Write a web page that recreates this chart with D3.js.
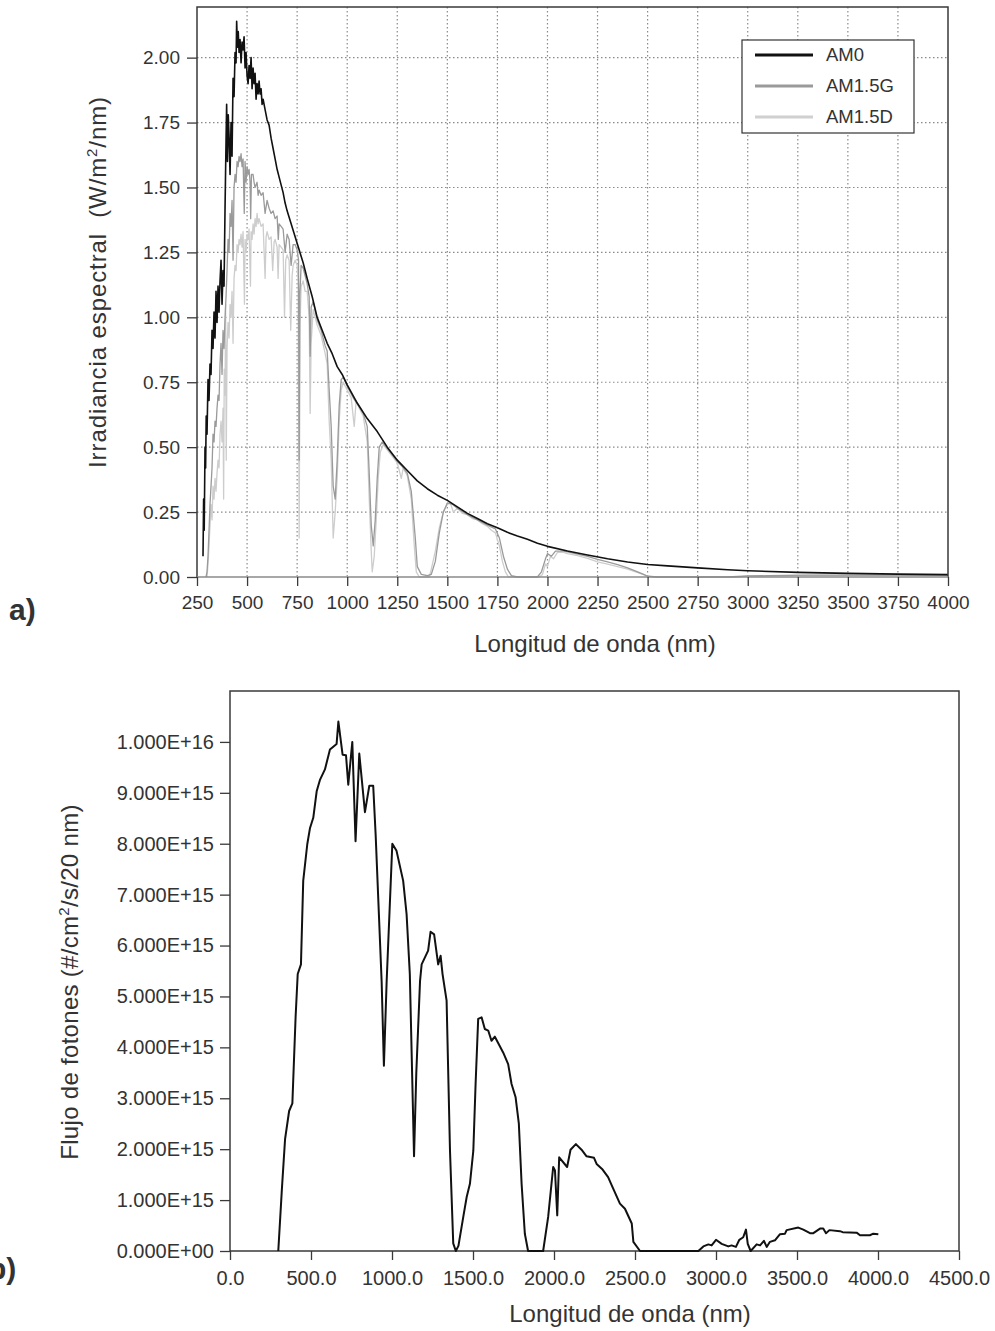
<!DOCTYPE html>
<html>
<head>
<meta charset="utf-8">
<script src="https://cdn.jsdelivr.net/npm/d3@7"></script>
<style>
  body { margin: 0; background: #fff; }
  svg text { font-family: "Liberation Sans", Arial, sans-serif; fill: #333; }
</style>
</head>
<body>
<svg id="chart" width="995" height="1331"></svg>
<script>
// ---- data ----
// panel a: [wavelength nm, spectral irradiance W/m2/nm]
var am0Points = [
  [280,0.08],[283,0.30],[286,0.18],[290,0.50],[293,0.42],[296,0.62],[300,0.55],[305,0.76],[310,0.68],
  [315,0.82],[320,0.78],[325,0.95],[330,0.88],[335,1.02],[340,0.92],[345,1.10],[350,0.98],[355,1.12],
  [360,1.02],[365,1.14],[370,1.22],[375,1.05],[380,1.18],[385,1.12],[390,1.42],[395,1.68],[398,1.82],
  [402,1.60],[406,1.78],[410,1.70],[415,1.55],[420,1.75],[425,1.62],[430,1.92],[435,1.85],[440,2.02],
  [445,1.98],[448,2.14],[452,2.04],[456,2.10],[460,2.02],[465,2.07],[470,1.98],[475,2.06],[480,2.03],
  [485,2.08],[490,1.96],[495,2.02],[500,1.93],[505,1.90],[510,1.97],[515,1.92],[520,2.00],[525,1.88],
  [530,1.96],[535,1.90],[540,1.94],[545,1.84],[550,1.90],[555,1.86],[560,1.91],[565,1.86],[570,1.88],
  [575,1.82],[580,1.84],[590,1.80],[600,1.76],[610,1.74],[620,1.69],[630,1.65],[640,1.61],[650,1.57],
  [660,1.54],[670,1.51],[680,1.48],[690,1.44],[700,1.41],[720,1.36],[740,1.31],[760,1.26],[780,1.21],
  [800,1.15],[825,1.08],[850,1.00],[875,0.95],[900,0.90],[925,0.86],[950,0.81],[975,0.78],[1000,0.74],
  [1050,0.67],[1100,0.61],[1150,0.56],[1200,0.50],[1250,0.45],[1300,0.41],[1350,0.37],[1400,0.34],
  [1450,0.315],[1500,0.295],[1550,0.27],[1600,0.245],[1650,0.225],[1700,0.205],[1750,0.19],[1800,0.172],
  [1850,0.158],[1900,0.145],[1950,0.13],[2000,0.118],[2100,0.10],[2200,0.085],[2300,0.07],[2400,0.058],
  [2500,0.048],[2600,0.043],[2750,0.035],[2900,0.028],[3000,0.024],[3250,0.018],[3500,0.014],
  [3750,0.011],[4000,0.009]
];

var am15gPoints = [
  [295,0],[300,0.02],[305,0.08],[310,0.18],[315,0.28],[320,0.35],[325,0.42],[330,0.55],[335,0.52],
  [340,0.60],[345,0.58],[350,0.65],[355,0.70],[360,0.68],[365,0.82],[370,0.90],[375,0.78],[380,0.95],
  [385,0.88],[390,1.00],[395,1.08],[400,1.18],[405,1.30],[410,1.25],[415,1.40],[420,1.35],[425,1.45],
  [430,1.22],[435,1.50],[440,1.55],[445,1.52],[450,1.60],[455,1.58],[460,1.62],[465,1.60],[470,1.63],
  [475,1.58],[480,1.61],[486,1.40],[490,1.60],[495,1.52],[500,1.58],[505,1.55],[510,1.57],[515,1.52],
  [518,1.38],[522,1.55],[530,1.55],[535,1.52],[540,1.50],[550,1.52],[555,1.47],[560,1.49],[570,1.47],
  [580,1.48],[590,1.40],[600,1.45],[610,1.42],[620,1.40],[630,1.41],[640,1.38],[650,1.39],[656,1.30],
  [660,1.36],[670,1.35],[680,1.34],[690,1.25],[700,1.32],[710,1.30],[720,1.20],[730,1.28],[740,1.28],
  [750,1.26],[757,1.22],[760,0.45],[763,1.08],[770,1.20],[780,1.19],[790,1.16],[800,1.13],[810,1.08],
  [815,0.85],[820,1.04],[830,1.06],[850,0.99],[870,0.95],[890,0.89],[900,0.87],[910,0.72],[920,0.58],
  [930,0.35],[940,0.30],[950,0.45],[960,0.66],[970,0.76],[980,0.77],[1000,0.735],[1030,0.69],[1060,0.655],
  [1080,0.63],[1100,0.58],[1110,0.40],[1120,0.20],[1130,0.12],[1140,0.22],[1150,0.38],[1160,0.50],
  [1175,0.52],[1200,0.495],[1225,0.47],[1250,0.445],[1275,0.425],[1300,0.40],[1320,0.33],[1340,0.15],
  [1350,0.04],[1370,0.01],[1400,0.005],[1420,0.01],[1440,0.06],[1460,0.17],[1480,0.25],[1500,0.285],
  [1525,0.28],[1550,0.265],[1600,0.24],[1650,0.22],[1700,0.20],[1740,0.185],[1760,0.15],[1780,0.08],
  [1800,0.03],[1820,0.005],[1850,0],[1950,0],[1970,0.02],[1990,0.07],[2000,0.09],[2020,0.08],
  [2040,0.10],[2080,0.10],[2100,0.097],[2150,0.088],[2200,0.079],[2250,0.068],[2300,0.058],
  [2350,0.048],[2400,0.035],[2450,0.02],[2480,0.01],[2500,0.003],[2550,0],[2900,0],[2950,0.002],
  [3000,0.004],[3100,0.005],[3200,0.006],[3300,0.007],[3500,0.007],[3750,0.007],[4000,0.006]
];

var am15dPoints = [
  [300,0],[305,0.05],[310,0.12],[315,0.20],[320,0.28],[325,0.22],[330,0.35],[335,0.30],[340,0.38],
  [345,0.33],[350,0.40],[355,0.45],[360,0.42],[365,0.55],[370,0.60],[375,0.52],[380,0.65],[383,0.30],
  [386,0.80],[390,0.70],[393,1.05],[396,0.45],[400,0.88],[405,0.98],[410,0.92],[415,1.05],[420,1.00],
  [425,1.10],[430,0.90],[435,1.15],[440,1.20],[445,1.18],[450,1.28],[455,1.25],[460,1.30],[465,1.28],
  [470,1.32],[475,1.27],[480,1.33],[487,1.05],[490,1.30],[495,1.25],[500,1.32],[505,1.30],[510,1.34],
  [517,1.12],[520,1.33],[525,1.30],[530,1.36],[535,1.32],[540,1.38],[545,1.35],[550,1.40],[555,1.36],
  [560,1.38],[570,1.35],[580,1.36],[590,1.15],[595,1.31],[600,1.33],[610,1.30],[620,1.31],[628,1.18],
  [635,1.29],[640,1.30],[650,1.27],[655,1.15],[660,1.28],[670,1.27],[680,1.26],[687,1.00],[693,1.22],
  [700,1.24],[710,1.22],[718,0.95],[725,1.16],[730,1.20],[740,1.22],[750,1.20],[755,1.14],[760,0.15],
  [765,0.98],[770,1.12],[780,1.14],[790,1.10],[800,1.10],[810,1.00],[815,0.63],[820,0.90],[830,1.03],
  [850,0.97],[870,0.93],[890,0.86],[900,0.82],[910,0.60],[920,0.45],[930,0.15],[940,0.25],[950,0.38],
  [960,0.60],[970,0.72],[980,0.75],[1000,0.72],[1020,0.69],[1035,0.58],[1045,0.68],[1060,0.65],
  [1080,0.62],[1100,0.52],[1110,0.30],[1120,0.10],[1125,0.02],[1135,0.08],[1145,0.22],[1155,0.38],
  [1165,0.48],[1180,0.51],[1200,0.49],[1225,0.465],[1250,0.44],[1270,0.38],[1280,0.42],[1300,0.39],
  [1320,0.30],[1335,0.12],[1345,0.02],[1360,0],[1410,0],[1420,0.03],[1440,0.10],[1460,0.19],[1480,0.25],
  [1500,0.28],[1515,0.285],[1530,0.25],[1550,0.265],[1575,0.245],[1600,0.24],[1625,0.225],[1650,0.22],
  [1675,0.205],[1700,0.195],[1720,0.18],[1740,0.17],[1760,0.12],[1775,0.06],[1790,0.02],[1805,0],
  [1960,0],[1975,0.01],[1990,0.05],[2000,0.04],[2015,0.08],[2030,0.07],[2050,0.095],[2080,0.095],
  [2100,0.09],[2150,0.082],[2200,0.072],[2250,0.058],[2300,0.05],[2350,0.04],[2400,0.03],[2440,0.02],
  [2470,0.012],[2500,0.003],[2530,0],[2950,0],[3000,0.003],[3250,0.006],[3500,0.006],[3750,0.006],
  [4000,0.005]
];

var seriesNames = ['AM0', 'AM1.5G', 'AM1.5D'];
var irradianceTicks = [0, 0.25, 0.5, 0.75, 1.0, 1.25, 1.5, 1.75, 2.0];
var wavelengthTicksA = [250, 500, 750, 1000, 1250, 1500, 1750, 2000, 2250, 2500, 2750, 3000, 3250, 3500, 3750, 4000];

// panel b: [wavelength nm, photon flux in units of 1E+15 #/cm2/s/20 nm]
var fluxE15 = [
  [298,0],[320,1.2],[340,2.2],[365,2.75],[385,2.9],[405,4.6],[418,5.44],[438,5.63],[452,7.27],[477,7.99],
  [494,8.31],[514,8.51],[535,9.03],[556,9.26],[586,9.46],[617,9.85],[658,9.96],[669,10.4],[695,9.75],
  [716,9.74],[730,9.16],[755,10.0],[775,8.05],[798,9.77],[833,8.62],[860,9.14],[884,9.14],[899,8.18],
  [936,5.3],[950,3.64],[967,5.3],[1002,8.0],[1028,7.86],[1069,7.27],[1090,6.62],[1110,5.44],[1136,1.86],
  [1150,3.5],[1173,5.3],[1183,5.63],[1223,5.9],[1238,6.27],[1260,6.22],[1285,5.63],[1300,5.8],[1312,5.44],
  [1337,4.92],[1358,1.97],[1378,0.15],[1394,0],[1410,0.1],[1440,0.67],[1461,1.06],[1481,1.32],[1502,1.97],
  [1516,3.28],[1532,4.56],[1553,4.59],[1573,4.36],[1594,4.33],[1614,4.13],[1635,4.21],[1686,3.90],
  [1717,3.67],[1738,3.28],[1763,3.02],[1783,2.5],[1800,1.32],[1820,0.34],[1840,0],[1933,0],[1964,0.67],
  [1995,1.65],[2006,1.58],[2020,0.7],[2032,1.84],[2081,1.65],[2102,1.99],[2135,2.1],[2170,1.99],
  [2201,1.86],[2247,1.83],[2263,1.71],[2300,1.6],[2334,1.45],[2362,1.25],[2407,0.93],[2438,0.83],
  [2480,0.54],[2490,0.18],[2531,0],[2891,0],[2922,0.09],[2953,0.13],[2973,0.11],[3000,0.22],[3035,0.14],
  [3076,0.09],[3096,0.11],[3123,0.08],[3144,0.22],[3168,0.27],[3185,0.42],[3196,0.14],[3214,0],
  [3251,0.13],[3272,0.11],[3296,0.2],[3313,0.08],[3333,0.18],[3364,0.21],[3395,0.33],[3426,0.34],
  [3436,0.41],[3508,0.46],[3539,0.42],[3580,0.35],[3601,0.35],[3642,0.44],[3662,0.44],[3679,0.35],
  [3700,0.41],[3765,0.39],[3782,0.37],[3868,0.36],[3889,0.31],[3950,0.31],[3971,0.34],[4002,0.33]
];

var fluxTicks = [0, 1e15, 2e15, 3e15, 4e15, 5e15, 6e15, 7e15, 8e15, 9e15, 1e16];
var wavelengthTicksB = [0, 500, 1000, 1500, 2000, 2500, 3000, 3500, 4000, 4500];

(function(){

  var svg = d3.select('#chart');
  var gridColor = '#8a8a8a',
    frameColor = '#3a3a3a';

  // ================= panel a =================
  var boxA = {left: 197, right: 948, top: 7, bottom: 577};
  var xA = d3.scaleLinear().domain([250, 4000]).range([boxA.left, boxA.right]);
  var yA = d3.scaleLinear().domain([0, 2.195]).range([boxA.bottom, boxA.top]);

  var gA = svg.append('g');

  // dotted grid
  gA.selectAll('.vgrid').data(wavelengthTicksA.slice(1, -1)).enter().append('line')
    .attr('x1', function(d){ return xA(d); })
    .attr('x2', function(d){ return xA(d); })
    .attr('y1', boxA.top).attr('y2', boxA.bottom)
    .attr('stroke', gridColor).attr('stroke-width', 1.2)
    .attr('stroke-dasharray', '1.5,2.5');

  gA.selectAll('.hgrid').data(irradianceTicks.slice(1)).enter().append('line')
    .attr('x1', boxA.left).attr('x2', boxA.right)
    .attr('y1', function(d){ return yA(d); })
    .attr('y2', function(d){ return yA(d); })
    .attr('stroke', gridColor).attr('stroke-width', 1.2)
    .attr('stroke-dasharray', '1.5,2.5');

  var lineA = d3.line()
    .x(function(d){ return xA(d[0]); })
    .y(function(d){ return yA(d[1]); });

  var seriesA = [
    {name: seriesNames[2], pts: am15dPoints, color: '#cdcdcd', w: 1.3},
    {name: seriesNames[1], pts: am15gPoints, color: '#9a9a9a', w: 1.3},
    {name: seriesNames[0], pts: am0Points, color: '#111', w: 1.6}
  ];

  gA.selectAll('.spec').data(seriesA).enter().append('path')
    .attr('d', function(d){ return lineA(d.pts); })
    .attr('fill', 'none')
    .attr('stroke', function(d){ return d.color; })
    .attr('stroke-width', function(d){ return d.w; })
    .attr('stroke-linejoin', 'round');

  // frame: dark left/top/right, lighter bottom axis line
  gA.append('path')
    .attr('d', 'M' + boxA.left + ',' + boxA.bottom + 'V' + boxA.top + 'H' + boxA.right + 'V' + boxA.bottom)
    .attr('fill', 'none').attr('stroke', frameColor).attr('stroke-width', 1.5);
  gA.append('line')
    .attr('x1', boxA.left).attr('x2', boxA.right)
    .attr('y1', boxA.bottom).attr('y2', boxA.bottom)
    .attr('stroke', '#8a8a8a').attr('stroke-width', 1.5);

  var axisAY = gA.append('g')
    .attr('transform', 'translate(' + boxA.left + ',0)')
    .call(d3.axisLeft(yA).tickValues(irradianceTicks).tickFormat(d3.format('.2f')).tickSize(10).tickPadding(7));
  var axisAX = gA.append('g')
    .attr('transform', 'translate(0,' + boxA.bottom + ')')
    .call(d3.axisBottom(xA).tickValues(wavelengthTicksA).tickFormat(d3.format('d')).tickSize(9).tickPadding(10));

  [axisAY, axisAX].forEach(function(ax){
    ax.select('.domain').remove();
    ax.selectAll('.tick line').attr('stroke', frameColor).attr('stroke-width', 1.3);
    ax.selectAll('.tick text').attr('font-size', 19).attr('fill', '#333')
      .style('font-family', '"Liberation Sans", Arial, sans-serif');
  });

  // legend
  var legend = gA.append('g');
  legend.append('rect')
    .attr('x', 742).attr('y', 40).attr('width', 172).attr('height', 93)
    .attr('fill', '#fff').attr('stroke', '#333').attr('stroke-width', 1.2);
  var legendColors = ['#111', '#9a9a9a', '#d0d0d0'];
  var legendRows = legend.selectAll('.row').data(seriesNames).enter().append('g')
    .attr('transform', function(d, i){ return 'translate(0,' + (55 + i * 31) + ')'; });
  legendRows.append('line')
    .attr('x1', 755).attr('x2', 813).attr('y1', 0).attr('y2', 0)
    .attr('stroke', function(d, i){ return legendColors[i]; })
    .attr('stroke-width', 3.2);
  legendRows.append('text')
    .attr('x', 826).attr('y', 0).attr('dy', '0.35em')
    .attr('font-size', 18.5)
    .text(function(d){ return d; });

  // titles
  var yTitleA = svg.append('text')
    .attr('transform', 'translate(106,282) rotate(-90)')
    .attr('text-anchor', 'middle')
    .attr('font-size', 24)
    .attr('letter-spacing', 0.9)
    .style('white-space', 'pre');
  yTitleA.append('tspan').text('Irradiancia espectral  (W/m');
  yTitleA.append('tspan').attr('font-size', 15).attr('dy', -9).text('2');
  yTitleA.append('tspan').attr('dy', 9).text('/nm)');

  svg.append('text')
    .attr('x', 595).attr('y', 652)
    .attr('text-anchor', 'middle')
    .attr('font-size', 24)
    .text('Longitud de onda (nm)');

  svg.append('text')
    .attr('x', 9).attr('y', 620)
    .attr('font-size', 30).attr('font-weight', 'bold').attr('fill', '#111')
    .text('a)');

  // ================= panel b =================
  var boxB = {left: 230, right: 959, top: 691, bottom: 1251};
  var xB = d3.scaleLinear().domain([0, 4500]).range([boxB.left, boxB.right]);
  var yB = d3.scaleLinear().domain([0, 1.1e16]).range([boxB.bottom, boxB.top]);

  var gB = svg.append('g');

  gB.append('path')
    .attr('d', 'M' + boxB.left + ',' + boxB.bottom + 'V' + boxB.top + 'H' + boxB.right + 'V' + boxB.bottom + 'H' + boxB.left)
    .attr('fill', 'none').attr('stroke', frameColor).attr('stroke-width', 1.5);

  var lineB = d3.line()
    .x(function(d){ return xB(d[0]); })
    .y(function(d){ return yB(d[1] * 1e15); });

  gB.append('path')
    .datum(fluxE15)
    .attr('d', lineB)
    .attr('fill', 'none')
    .attr('stroke', '#111')
    .attr('stroke-width', 2)
    .attr('stroke-linejoin', 'round');

  var sciFormat = function(v){
    if (v === 0) { return '0.000E+00'; }
    var e = Math.floor(Math.log10(v) + 1e-9);
    var m = v / Math.pow(10, e);
    return m.toFixed(3) + 'E+' + (e < 10 ? '0' : '') + e;
  };

  var axisBY = gB.append('g')
    .attr('transform', 'translate(' + boxB.left + ',0)')
    .call(d3.axisLeft(yB).tickValues(fluxTicks).tickFormat(sciFormat).tickSize(10).tickPadding(6));
  var axisBX = gB.append('g')
    .attr('transform', 'translate(0,' + boxB.bottom + ')')
    .call(d3.axisBottom(xB).tickValues(wavelengthTicksB).tickFormat(d3.format('.1f')).tickSize(9).tickPadding(11));

  [axisBY, axisBX].forEach(function(ax){
    ax.select('.domain').remove();
    ax.selectAll('.tick line').attr('stroke', frameColor).attr('stroke-width', 1.3);
    ax.selectAll('.tick text').attr('font-size', 20).attr('fill', '#333')
      .style('font-family', '"Liberation Sans", Arial, sans-serif');
  });

  var yTitleB = svg.append('text')
    .attr('transform', 'translate(78,982) rotate(-90)')
    .attr('text-anchor', 'middle')
    .attr('font-size', 24)
    .attr('letter-spacing', 0.3);
  yTitleB.append('tspan').text('Flujo de fotones (#/cm');
  yTitleB.append('tspan').attr('font-size', 15).attr('dy', -9).text('2');
  yTitleB.append('tspan').attr('dy', 9).text('/s/20 nm)');

  svg.append('text')
    .attr('x', 630).attr('y', 1322)
    .attr('text-anchor', 'middle')
    .attr('font-size', 24)
    .text('Longitud de onda (nm)');

  svg.append('text')
    .attr('x', -12).attr('y', 1279)
    .attr('font-size', 30).attr('font-weight', 'bold').attr('fill', '#111')
    .text('b)');

}());
</script>
</body>
</html>
